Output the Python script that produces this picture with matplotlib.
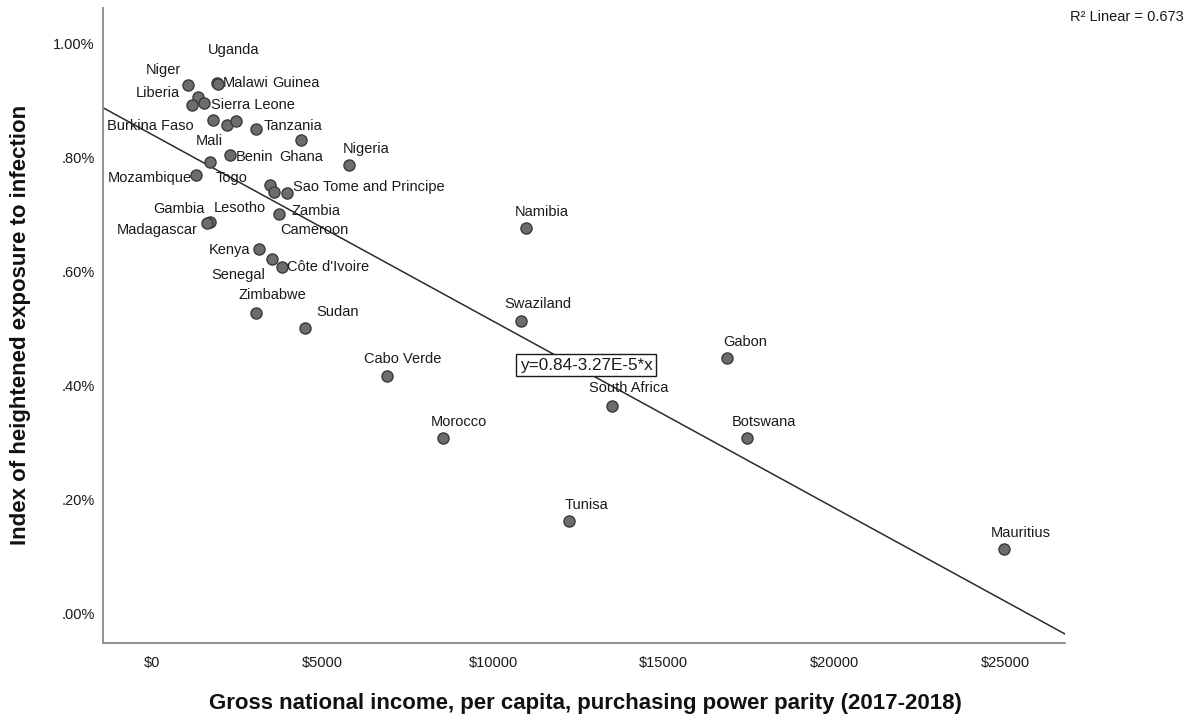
import matplotlib
matplotlib.use('Agg')
import matplotlib.pyplot as plt
import numpy as np

plt.rcParams['font.family'] = ['Liberation Sans', 'DejaVu Sans']

# ---------------- data ----------------
countries = ["Niger", "Uganda", "Malawi", "Liberia", "", "Sierra Leone",
             "Burkina Faso", "Mali", "Guinea", "Tanzania", "Ghana", "Benin",
             "Togo", "Mozambique", "Nigeria", "Lesotho", "Zambia",
             "Sao Tome and Principe", "Cameroon", "Gambia", "Madagascar",
             "Kenya", "Senegal", "Côte d'Ivoire", "Zimbabwe", "Sudan",
             "Namibia", "Swaziland", "Gabon", "Cabo Verde", "South Africa",
             "Morocco", "Botswana", "Tunisa", "Mauritius"]
gni = [1060, 1910, 1950, 1360, 1180, 1530,
       1800, 2210, 2470, 3060, 4370, 2290,
       1710, 1300, 5780, 3470, 3580,
       3960, 3730, 1710, 1620,
       3140, 3520, 3820, 3060, 4490,
       10970, 10820, 16860, 6890, 13490,
       8540, 17440, 12230, 24970]
exposure = [0.926, 0.930, 0.928, 0.905, 0.891, 0.895,
            0.865, 0.856, 0.863, 0.849, 0.830, 0.804,
            0.792, 0.769, 0.786, 0.751, 0.739,
            0.737, 0.700, 0.686, 0.685,
            0.639, 0.622, 0.608, 0.527, 0.501,
            0.676, 0.513, 0.448, 0.417, 0.364,
            0.308, 0.308, 0.163, 0.114]

x_ticks = [0, 5000, 10000, 15000, 20000, 25000]
x_tick_labels = [r"\$0", r"\$5000", r"\$10000", r"\$15000", r"\$20000", r"\$25000"]
y_ticks = [0.0, 0.2, 0.4, 0.6, 0.8, 1.0]
y_tick_labels = [".00%", ".20%", ".40%", ".60%", ".80%", "1.00%"]

intercept = 0.84
slope = -3.27e-5
r_squared = 0.673

# label offsets (pixels, image orientation: +x right, +y down)
label_offsets = {
    "Niger": (-25, -15), "Uganda": (17, -33), "Malawi": (27, -1),
    "Liberia": (-40, -4), "Sierra Leone": (49, 2), "Burkina Faso": (-63, 6),
    "Mali": (-18, 16), "Guinea": (60, -38), "Tanzania": (37, -3),
    "Ghana": (0, 17), "Benin": (25, 2), "Togo": (21, 16),
    "Mozambique": (-46, 3), "Nigeria": (17, -16), "Lesotho": (-30, 23),
    "Zambia": (42, 19), "Sao Tome and Principe": (82, -6),
    "Cameroon": (35, 16), "Gambia": (-31, -13), "Madagascar": (-50, 7),
    "Kenya": (-29, 1), "Senegal": (-34, 16), "Côte d'Ivoire": (46, 0),
    "Zimbabwe": (16, -18), "Sudan": (33, -16), "Namibia": (16, -16),
    "Swaziland": (17, -17), "Gabon": (18, -16), "Cabo Verde": (16, -17),
    "South Africa": (17, -18), "Morocco": (16, -16), "Botswana": (17, -16),
    "Tunisa": (17, -16), "Mauritius": (17, -16),
}

# ---------------- figure ----------------
W, H = 1195, 718
fig = plt.figure(figsize=(W / 100, H / 100), dpi=100)
ax = fig.add_axes([103 / W, 1 - 643 / H, (1065 - 103) / W, (643 - 8) / H])

xmin, xmax = -1427, 26760
ymin, ymax = -0.0508, 1.0613
ax.set_xlim(xmin, xmax)
ax.set_ylim(ymin, ymax)

# regression line across the full x range
xl = np.array([xmin, xmax])
ax.plot(xl, intercept + slope * xl, color="#2b2b2b", lw=1.1, zorder=2)

ax.scatter(gni, exposure, s=64, facecolor="#6d6d6d", edgecolor="#3a3a3a",
           linewidth=1.0, zorder=3)

for name, x, y in zip(countries, gni, exposure):
    if not name:
        continue
    dx, dy = label_offsets[name]
    ax.annotate(name, (x, y), xytext=(dx, -dy), textcoords="offset pixels",
                ha="center", va="center", fontsize=10.5, color="#1a1a1a",
                zorder=4)

# equation box on the line
xe = 12725
ax.text(xe, intercept + slope * xe + 0.012, "y=0.84-3.27E-5*x",
        ha="center", va="center", fontsize=12.3, color="#1a1a1a", zorder=5,
        bbox=dict(boxstyle="square,pad=0.22", facecolor="white",
                  edgecolor="#1a1a1a", linewidth=1.0))

ax.set_xticks(x_ticks)
ax.set_xticklabels(x_tick_labels)
ax.set_yticks(y_ticks)
ax.set_yticklabels(y_tick_labels)
ax.tick_params(axis="both", length=0, labelsize=10.5, colors="#1a1a1a")
ax.tick_params(axis="x", pad=9)
ax.tick_params(axis="y", pad=6)

for side in ("top", "right"):
    ax.spines[side].set_visible(False)
for side in ("left", "bottom"):
    ax.spines[side].set_color("#8a8a8a")
    ax.spines[side].set_linewidth(1.3)

fig.text(585 / W, 1 - 704 / H,
         "Gross national income, per capita, purchasing power parity (2017-2018)",
         ha="center", va="center", fontsize=16, fontweight="bold", color="#111111")
fig.text(21 / W, 1 - 325 / H, "Index of heightened exposure to infection",
         ha="center", va="center", rotation=90, fontsize=16,
         fontweight="bold", color="#111111")

fig.text(1184 / W, 1 - 17 / H, f"R² Linear = {r_squared:.3f}",
         ha="right", va="center", fontsize=10.5, color="#1a1a1a")

fig.savefig("out.png", dpi=100, facecolor="white")
